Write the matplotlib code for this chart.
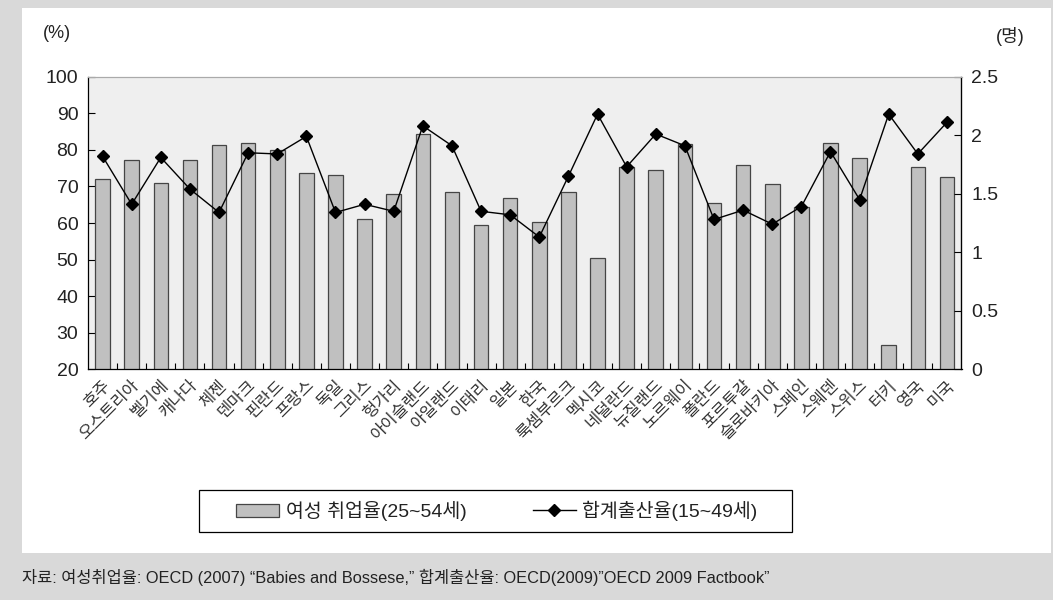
import matplotlib
matplotlib.use("Agg")
import matplotlib.pyplot as plt
import matplotlib.transforms as mtransforms
from matplotlib.patches import Rectangle, Patch
from matplotlib.lines import Line2D
import numpy as np

plt.rcParams['font.family'] = ['Liberation Sans', 'Noto Sans CJK KR']

# 국가 / 여성 취업율(25~54세, %) / 합계출산율(15~49세, 명)
countries = ['호주', '오스트리아', '벨기에', '캐나다', '체첸', '덴마크', '핀란드', '프랑스',
             '독일', '그리스', '헝가리', '아이슬랜드', '아일랜드', '이태리', '일본', '한국',
             '룩셈부르크', '멕시코', '네덜란드', '뉴질랜드', '노르웨이', '폴란드', '포르투갈',
             '슬로바키아', '스페인', '스웨덴', '스위스', '터키', '영국', '미국']
employment = [72.0, 77.2, 71.0, 77.2, 81.3, 82.0, 80.0, 73.8, 73.1, 61.0, 67.9, 84.3,
              68.4, 59.4, 66.7, 60.2, 68.6, 50.3, 75.2, 74.6, 81.5, 65.6, 75.8, 70.7,
              64.4, 82.0, 77.9, 26.6, 75.2, 72.7]
fertility = [1.82, 1.41, 1.81, 1.54, 1.34, 1.85, 1.84, 1.99, 1.34, 1.41, 1.35, 2.08,
             1.91, 1.35, 1.32, 1.13, 1.65, 2.18, 1.73, 2.01, 1.91, 1.28, 1.36, 1.24,
             1.39, 1.86, 1.45, 2.18, 1.84, 2.11]

left_ticks = [20, 30, 40, 50, 60, 70, 80, 90, 100]
right_ticks = [0, 0.5, 1, 1.5, 2, 2.5]
right_labels = ['0', '0.5', '1', '1.5', '2', '2.5']

W, H = 1053, 600
fig = plt.figure(figsize=(W / 100, H / 100), dpi=100, facecolor='#d9d9d9')
# white panel + legend box
fig.add_artist(Rectangle((22 / W, 1 - 553 / H), (1051 - 22) / W, (553 - 8) / H,
                         transform=fig.transFigure, facecolor='white',
                         edgecolor='none', zorder=-5))
fig.add_artist(Rectangle((199 / W, 1 - 532 / H), (792 - 199) / W, (532 - 490) / H,
                         transform=fig.transFigure, facecolor='white',
                         edgecolor='black', linewidth=0.9, zorder=-4))

ax = fig.add_axes([88 / W, 1 - 369.3 / H, (961.5 - 88) / W, (369.3 - 76.7) / H])
ax.set_facecolor('#efefef')
x = np.arange(len(countries))
ax.bar(x, employment, width=0.5, color='#c0c0c0', edgecolor='#454545', linewidth=0.9,
       zorder=2)
ax.set_ylim(20, 100)
ax.set_xlim(-0.5, len(countries) - 0.5)
ax.set_yticks(left_ticks)
ax.tick_params(axis='y', direction='in', length=5, labelsize=14, pad=7, width=0.8,
               labelcolor='#222222')
ax.set_xticks(x)
ax.set_xticklabels(countries, rotation=45, ha='right', rotation_mode='anchor',
                   fontsize=12, color='#333333')
offset = mtransforms.ScaledTranslation(-11 / 100, -7 / 100, fig.dpi_scale_trans)
for lab in ax.get_xticklabels():
    lab.set_transform(lab.get_transform() + offset)
ax.tick_params(axis='x', which='major', length=0, pad=6)
ax.set_xticks(x[:-1] + 0.5, minor=True)
ax.tick_params(axis='x', which='minor', direction='in', length=4, width=0.8)
for s in ['left', 'bottom']:
    ax.spines[s].set_color('black')
    ax.spines[s].set_linewidth(0.9)
ax.spines['top'].set_color('#aaaaaa')
ax.spines['top'].set_linewidth(0.8)

ax2 = ax.twinx()
ax2.plot(x, fertility, color='black', linewidth=1.0, marker='D', markersize=6,
         zorder=3)
ax2.set_ylim(0, 2.5)
ax2.set_yticks(right_ticks)
ax2.set_yticklabels(right_labels)
ax2.tick_params(axis='y', direction='in', length=5, labelsize=14, pad=7, width=0.8,
                labelcolor='#222222')
ax2.spines['right'].set_color('black')
ax2.spines['right'].set_linewidth(0.9)
ax2.spines['top'].set_color('#aaaaaa')
ax2.spines['top'].set_linewidth(0.8)
for s in ['left', 'bottom']:
    ax2.spines[s].set_visible(False)

fig.text(57 / W, 1 - 34 / H, '(%)', fontsize=13, ha='center', va='center', color='#222222')
fig.text(1010 / W, 1 - 36 / H, '(명)', fontsize=13, ha='center', va='center', color='#222222')

handles = [Patch(facecolor='#c0c0c0', edgecolor='#454545', linewidth=0.9),
           Line2D([], [], color='black', linewidth=1.0, marker='D', markersize=6)]
labels = ['여성 취업율(25~54세)', '합계출산율(15~49세)']
leg = fig.legend(handles, labels, loc='center', bbox_to_anchor=(497 / W, 1 - 511 / H),
                 ncol=2, frameon=False, fontsize=14, labelcolor='#222222',
                 columnspacing=3.4, handlelength=2.2, handletextpad=0.35,
                 borderpad=0, borderaxespad=0)

fig.text(22 / W, 1 - 577 / H,
         '자료: 여성취업율: OECD (2007) “Babies and Bossese,” 합계출산율: OECD(2009)”OECD 2009 Factbook”',
         fontsize=11.8, ha='left', va='center', color='#222222')

fig.savefig('out.png', dpi=100, facecolor=fig.get_facecolor())
